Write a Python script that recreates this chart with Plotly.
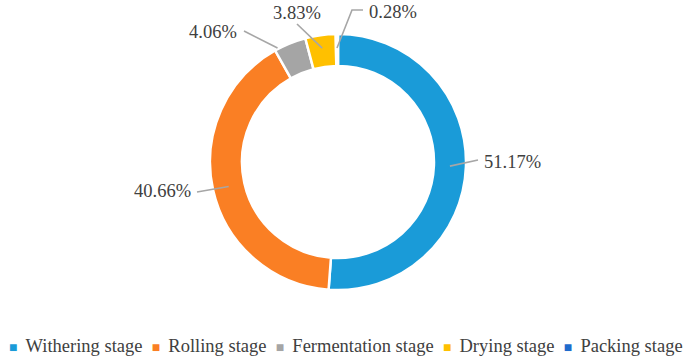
import math
import plotly.graph_objects as go

# ---------------- data ----------------
stages = ["Withering stage", "Rolling stage", "Fermentation stage", "Drying stage", "Packing stage"]
shares = [51.17, 40.66, 4.06, 3.83, 0.28]
label_texts = ["51.17%", "40.66%", "4.06%", "3.83%", "0.28%"]
colors = ["#1A9BD8", "#FA7F24", "#A5A5A5", "#FFC000", "#1F6BCC"]

# ---------------- layout constants ----------------
W, H = 692, 360
CX, CY = 338, 162          # pie centre (px)
R_OUT = 128                # outer radius (px)
HOLE = 0.75
FONT = "Liberation Serif"
TXT = "#404040"
LINE = "#A6A6A6"

# label styling: (fraction within slice for leader start, radius px,
#                 leader path points relative to picture (px), text pos, anchor)
label_style = [
    dict(frac=0.5, r=112, path=[(478, 160)], text=(482, 162), anchor="left"),
    dict(frac=0.5, r=112, path=[(197, 192)], text=(193, 191), anchor="right"),
    dict(frac=0.1, r=129, path=[(244, 31)], text=(239, 32), anchor="right"),
    dict(frac=0.5, r=115, path=[(297, 24)], text=(297, 13), anchor="center"),
    dict(frac=0.5, r=114, path=[(352, 10), (363, 10)], text=(367, 12), anchor="left"),
]


def px(x, y):
    return x / W, 1 - y / H


fig = go.Figure()
fig.add_trace(go.Pie(
    labels=stages, values=shares, sort=False, direction="clockwise", rotation=0,
    hole=HOLE, textinfo="none", hoverinfo="label+percent",
    marker=dict(colors=colors, line=dict(color="white", width=2.5)),
    domain=dict(x=[(CX - R_OUT) / W, (CX + R_OUT) / W],
                y=[1 - (CY + R_OUT) / H, 1 - (CY - R_OUT) / H]),
    showlegend=False,
))

total = sum(shares)
cum = 0.0
shapes = []
annotations = []
for val, txt, st in zip(shares, label_texts, label_style):
    ang = (cum + st["frac"] * val) / total * 2 * math.pi
    cum += val
    sx = CX + st["r"] * math.sin(ang)
    sy = CY - st["r"] * math.cos(ang)
    pts = [(sx, sy)] + st["path"]
    d = "M " + " L ".join(f"{px(x, y)[0]:.5f},{px(x, y)[1]:.5f}" for x, y in pts)
    shapes.append(dict(type="path", xref="paper", yref="paper", path=d,
                       line=dict(color=LINE, width=1.6)))
    tx, ty = px(*st["text"])
    annotations.append(dict(xref="paper", yref="paper", x=tx, y=ty, text=txt,
                            showarrow=False, xanchor=st["anchor"], yanchor="middle",
                            font=dict(family=FONT, size=18.5, color=TXT)))

# legend row (built from the data lists)
sp = "&#160;"
items = []
for name, col in zip(stages, colors):
    items.append(f"<span style='color:{col};font-size:14px'>&#9632;{sp}</span>{sp}{name}")
legend_text = (sp * 2).join(items)
annotations.append(dict(xref="paper", yref="paper", x=0.5, y=px(0, 346)[1], text=legend_text,
                        showarrow=False, xanchor="center", yanchor="middle",
                        font=dict(family=FONT, size=18.5, color=TXT)))

fig.update_layout(
    width=W, height=H, margin=dict(l=0, r=0, t=0, b=0),
    paper_bgcolor="white", plot_bgcolor="white",
    font=dict(family=FONT),
    shapes=shapes, annotations=annotations,
)
fig.write_html("out.html", config={"displayModeBar": False},
               post_script="document.body.style.margin='0px';")
